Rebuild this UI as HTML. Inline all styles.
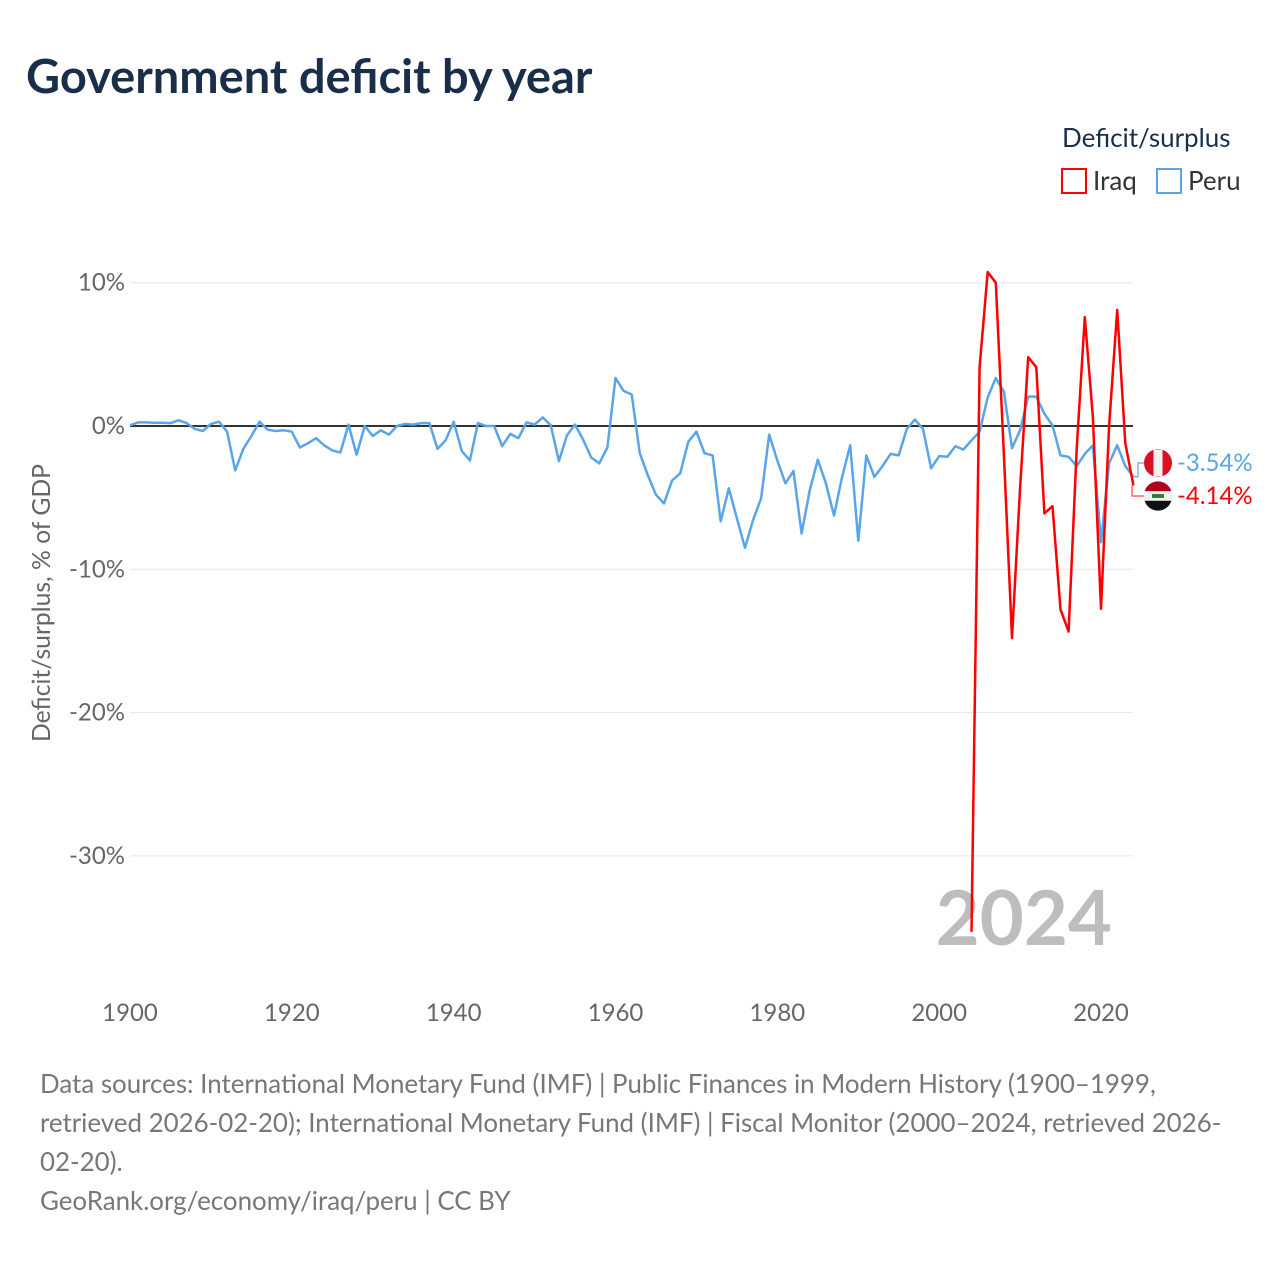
<!DOCTYPE html>
<html><head><meta charset="utf-8"><style>
body{margin:0;background:#fff;font-family:"Liberation Sans",sans-serif;}
svg text{font-family:"Lato","Liberation Sans",sans-serif;}
</style></head><body>
<svg id="chart" width="1280" height="1280" viewBox="0 0 1280 1280" xmlns="http://www.w3.org/2000/svg">
<text x="26" y="93" font-size="47" font-weight="bold" fill="#1a2e4a">Government deficit by year</text>
<text x="1062" y="147" font-size="26" fill="#1a2e4a">Deficit/surplus</text>
<g><rect x="1062" y="169" width="24" height="24" fill="none" stroke="#ff0000" stroke-width="2"/><text x="1093" y="190" font-size="26" fill="#333">Iraq</text></g>
<g><rect x="1157" y="169" width="24" height="24" fill="none" stroke="#5aa5e8" stroke-width="2"/><text x="1188" y="190" font-size="26" fill="#333">Peru</text></g>
<text transform="translate(50,603) rotate(-90)" text-anchor="middle" font-size="24.7" fill="#666">Deficit/surplus, % of GDP</text>
<g id="grid"></g><g id="xt"></g>
<text x="1112" y="945" text-anchor="end" font-size="76" font-weight="bold" fill="#bdbdbd">2024</text>
<g id="lines"></g>
<g id="ends"></g>
<g font-size="25.9" fill="#777">
<text x="40" y="1093">Data sources: International Monetary Fund (IMF) | Public Finances in Modern History (1900–1999,</text>
<text x="40" y="1132">retrieved 2026-02-20); International Monetary Fund (IMF) | Fiscal Monitor (2000–2024, retrieved 2026-</text>
<text x="40" y="1171">02-20).</text>
<text x="40" y="1210">GeoRank.org/economy/iraq/peru | CC BY</text>
</g>
</svg>
<script>
const peruYears0 = 1900;
const peruValues = [0.05,0.25,0.25,0.23,0.23,0.2,0.4,0.2,-0.2,-0.35,0.15,0.3,-0.4,-3.1,-1.6,-0.7,0.3,-0.25,-0.35,-0.3,
-0.4,-1.5,-1.2,-0.85,-1.35,-1.7,-1.85,0.1,-2.0,0,-0.7,-0.3,-0.6,0,0.15,0.1,0.2,0.2,-1.6,-1.0,
0.3,-1.75,-2.4,0.2,0,0,-1.4,-0.55,-0.85,0.25,0.1,0.6,0.05,-2.45,-0.65,0.1,-0.95,-2.2,-2.6,-1.5,
3.35,2.45,2.2,-1.9,-3.45,-4.8,-5.4,-3.8,-3.3,-1.1,-0.4,-1.9,-2.05,-6.65,-4.35,-6.45,-8.5,-6.55,-5.05,-0.6,
-2.4,-4.0,-3.15,-7.5,-4.5,-2.35,-4.0,-6.25,-3.55,-1.35,-8.0,-2.05,-3.55,-2.8,-1.95,-2.05,-0.2,0.45,-0.2,-2.95,
-2.1,-2.15,-1.4,-1.65,-1.0,-0.4,2.0,3.35,2.4,-1.55,-0.3,2.05,2.05,0.85,0.05,-2.05,-2.15,-2.8,-1.95,-1.35,
-8.1,-2.6,-1.35,-2.8,-3.54];
const iraqYears0 = 2004;
const iraqValues = [-35.3,4.1,10.75,10.0,-2.0,-14.8,-4.3,4.8,4.1,-6.1,-5.6,-12.8,-14.35,-1.6,7.6,0.6,-12.75,0,8.1,-1.2,-4.14];
const yTicks = [10,0,-10,-20,-30];
const xTicks = [1900,1920,1940,1960,1980,2000,2020];
const NS="http://www.w3.org/2000/svg";
const X=y=>130+(y-1900)*(971/120);
const Y=v=>426-v*14.33;
function mk(t,a,p){const e=document.createElementNS(NS,t);for(const k in a)e.setAttribute(k,a[k]);p.appendChild(e);return e;}
const grid=document.getElementById('grid');
yTicks.forEach(t=>{
  const l=mk('line',{x1:130,x2:1133,y1:Y(t),y2:Y(t),stroke:t===0?'#333':'#e6e6e6','stroke-width':t===0?2:1},grid);
  
  
  const tx=mk('text',{x:125,y:Y(t)+8,'text-anchor':'end','font-size':24,fill:'#666'},grid);
  tx.textContent=t+'%';
  
  
});
const xt=document.getElementById('xt');
xTicks.forEach(t=>{
  const tx=mk('text',{x:X(t),y:1021,'text-anchor':'middle','font-size':24,fill:'#666'},xt);
  tx.textContent=t;
  
  
});
const lines=document.getElementById('lines');
function series(y0,vals,col,name){
  const d=vals.map((v,i)=>(i?'L':'M')+X(y0+i).toFixed(1)+' '+Y(v).toFixed(1)).join('');
  const p=mk('path',{d:d,fill:'none',stroke:col,'stroke-width':2.5,'stroke-linejoin':'round'},lines);
  
  
}
series(peruYears0,peruValues,'#5aa5e8','peru-line');
series(iraqYears0,iraqValues,'#ff0000','iraq-line');
const ends=document.getElementById('ends');
const pv=peruValues[peruValues.length-1], iv=iraqValues[iraqValues.length-1];
const xe=X(2024);
mk('path',{d:`M${xe} ${Y(pv)}H1138V463H1144`,fill:'none',stroke:'#5aa5e8','stroke-width':1.2},ends);
mk('path',{d:`M${xe} ${Y(iv)}H1132V496H1144`,fill:'none',stroke:'#ff4444','stroke-width':1.2},ends);
const pf=mk('g',{},ends);


mk('circle',{cx:1158,cy:463,r:14,fill:'#d91023'},pf);
mk('rect',{x:1153.5,y:449.5,width:9,height:27,fill:'#f2f2f2'},pf);
const pl=mk('text',{x:1177,y:471,'font-size':24,fill:'#5aa5e8'},ends);
pl.textContent=pv.toFixed(2)+'%';


const ifl=mk('g',{},ends);


mk('path',{d:'M1144.6 491.3A14 14 0 0 1 1171.4 491.3Z',fill:'#b0001c'},ifl);
mk('rect',{x:1144,y:491.3,width:28,height:9.4,fill:'#f2f2f2'},ifl);
mk('path',{d:'M1144.6 500.7A14 14 0 0 0 1171.4 500.7Z',fill:'#111'},ifl);
mk('rect',{x:1152,y:494,width:12,height:4,fill:'#3a7a3a'},ifl);
const il=mk('text',{x:1177,y:504,'font-size':24,fill:'#ff0000'},ends);
il.textContent=iv.toFixed(2)+'%';


</script>
</body></html>
